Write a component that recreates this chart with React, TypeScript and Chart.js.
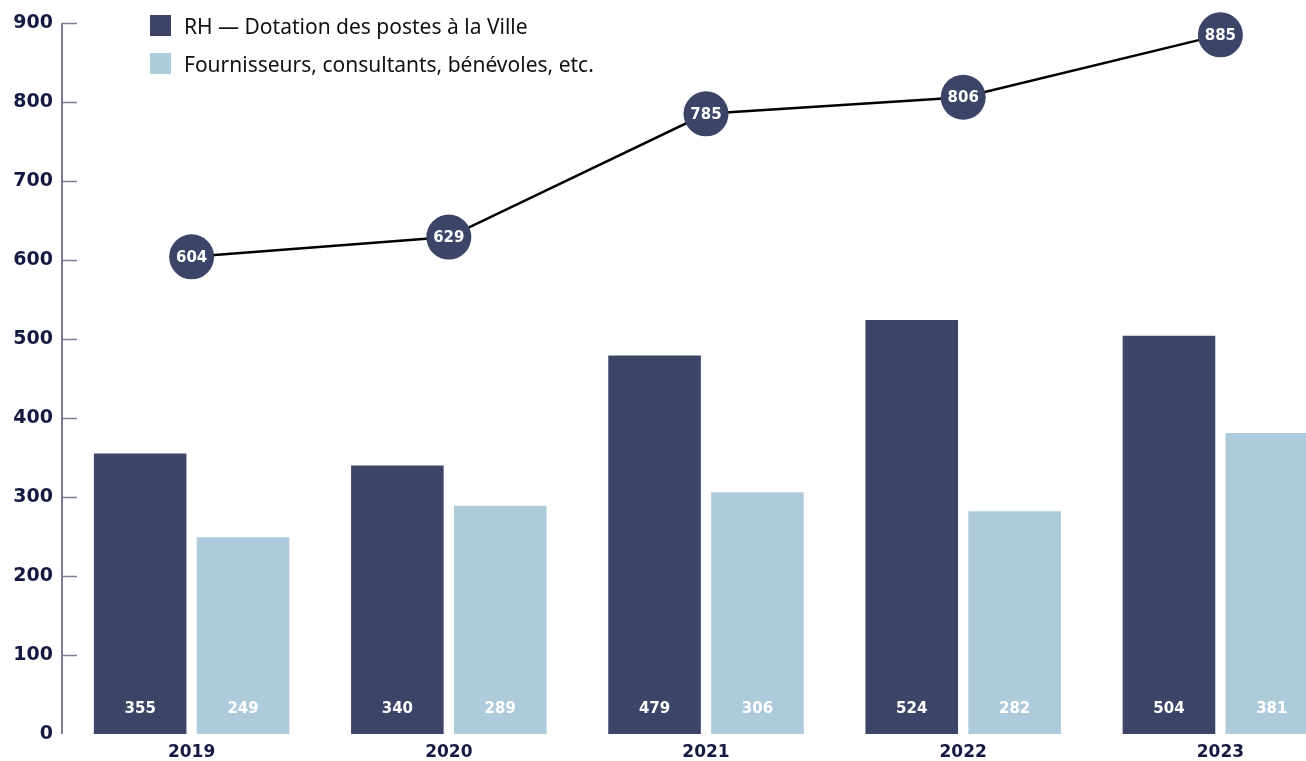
import React, { useEffect, useRef } from "react";
import { Chart, registerables } from "chart.js";

Chart.register(...registerables);

const years = ["2019", "2020", "2021", "2022", "2023"];
const rhValues = [355, 340, 479, 524, 504];
const externalValues = [249, 289, 306, 282, 381];
const totalValues = [604, 629, 785, 806, 885];
const yTicks = [0, 100, 200, 300, 400, 500, 600, 700, 800, 900];
const legendLabels = ["RH — Dotation des postes à la Ville", "Fournisseurs, consultants, bénévoles, etc."];

const DARK = "#3c4467";
const LIGHT = "#aecbdb";
const NAVY = "#151a42";
const NUM_FONT = "'DejaVu Sans', sans-serif";

const overlayPlugin = {
  id: "overlay",
  afterDatasetsDraw(chart: any) {
    const ctx = chart.ctx;
    const y = chart.scales.y;
    const area = chart.chartArea;
    ctx.save();
    // axis line + inward ticks
    ctx.strokeStyle = "#7b7e98";
    ctx.lineWidth = 2;
    const ax = area.left - 1;
    ctx.beginPath();
    ctx.moveTo(ax, y.getPixelForValue(900));
    ctx.lineTo(ax, y.getPixelForValue(0));
    ctx.stroke();
    ctx.lineWidth = 1.5;
    yTicks.forEach((v) => {
      if (v === 0) return;
      const py = Math.round(y.getPixelForValue(v)) + 0.5;
      ctx.beginPath();
      ctx.moveTo(ax, py);
      ctx.lineTo(ax + 15, py);
      ctx.stroke();
    });
    // bar value labels
    ctx.fillStyle = "#ffffff";
    ctx.textAlign = "center";
    ctx.textBaseline = "middle";
    ctx.font = `bold 15px ${NUM_FONT}`;
    [0, 1].forEach((di) => {
      const meta = chart.getDatasetMeta(di);
      const data = chart.data.datasets[di].data;
      meta.data.forEach((el: any, i: number) => {
        ctx.fillText(String(data[i]), el.x, y.getPixelForValue(0) - 25);
      });
    });
    // line point labels
    const lm = chart.getDatasetMeta(2);
    const ld = chart.data.datasets[2].data;
    lm.data.forEach((el: any, i: number) => {
      ctx.fillText(String(ld[i]), el.x, el.y + 1);
    });
    ctx.restore();
  },
};

export default function App() {
  const ref = useRef<HTMLCanvasElement | null>(null);
  useEffect(() => {
    if (!ref.current) return;
    const chart = new Chart(ref.current, {
      type: "bar",
      data: {
        labels: years,
        datasets: [
          {
            type: "bar",
            label: legendLabels[0],
            data: rhValues,
            backgroundColor: DARK,
            categoryPercentage: 0.8,
            barPercentage: 0.9,
            order: 2,
          },
          {
            type: "bar",
            label: legendLabels[1],
            data: externalValues,
            backgroundColor: LIGHT,
            categoryPercentage: 0.8,
            barPercentage: 0.9,
            order: 2,
          },
          {
            type: "line",
            label: "Total",
            data: totalValues,
            borderColor: "#000000",
            borderWidth: 2.5,
            pointRadius: 22.5,
            pointHoverRadius: 22.5,
            pointBackgroundColor: DARK,
            pointBorderWidth: 0,
            pointBorderColor: DARK,
            clip: false,
            order: 0,
          } as any,
        ],
      },
      options: {
        responsive: false,
        animation: false,
        maintainAspectRatio: false,
        layout: { autoPadding: false, padding: { top: 23, right: 0, left: 0, bottom: 0 } },
        plugins: {
          legend: { display: false },
          tooltip: { enabled: false },
        },
        scales: {
          x: {
            grid: { display: false, drawTicks: false },
            border: { display: false },
            ticks: {
              color: NAVY,
              font: { family: NUM_FONT, size: 17, weight: "bold" },
              padding: 8,
            },
            afterFit(s: any) {
              s.height = 27;
            },
          },
          y: {
            min: 0,
            max: 900,
            grid: { display: false, drawTicks: false },
            border: { display: false },
            afterBuildTicks(s: any) {
              s.ticks = yTicks.map((v) => ({ value: v }));
            },
            ticks: {
              color: NAVY,
              font: { family: NUM_FONT, size: 19, weight: "bold" },
              padding: 10,
            },
            afterFit(s: any) {
              s.width = 63;
            },
          },
        },
      } as any,
      plugins: [overlayPlugin],
    });
    return () => chart.destroy();
  }, []);

  return (
    <div
      style={{
        position: "fixed",
        left: 0,
        top: 0,
        width: 1306,
        height: 761,
        overflow: "hidden",
        background: "#ffffff",
      }}
    >
      <canvas ref={ref} width={1349} height={761} style={{ display: "block" }} />
      {legendLabels.map((t, i) => (
        <div
          key={t}
          style={{
            position: "absolute",
            left: 150,
            top: 15 + i * 38,
            height: 21,
            display: "flex",
            alignItems: "center",
            fontFamily: "'Noto Sans', sans-serif",
            fontSize: 21,
            color: "#111111",
            whiteSpace: "nowrap",
          }}
        >
          <span
            style={{
              display: "inline-block",
              width: 21,
              height: 21,
              background: i === 0 ? DARK : LIGHT,
              marginRight: 13,
            }}
          />
          <span>{t}</span>
        </div>
      ))}
    </div>
  );
}
